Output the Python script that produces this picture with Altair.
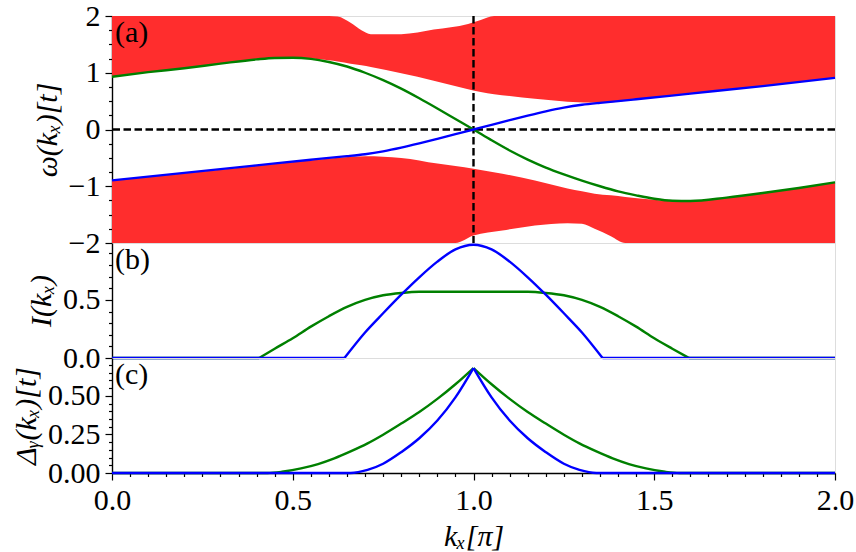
import altair as alt
import pandas as pd

FONT = "Liberation Serif"
RED = "#ff2d2d"
GREEN = "#008000"
BLUE = "#0000ff"

# ---------------- panel (a): dispersion ----------------
# upper continuum band
ub_x = [0.0, 0.1, 0.2, 0.3, 0.4, 0.45, 0.5, 0.55, 0.6, 0.624, 0.66, 0.69, 0.716,
        0.8, 0.89, 0.985, 1.02, 1.057, 1.1, 1.17, 1.26, 1.35, 1.45, 1.6, 1.8, 2.0]
ub_lo = [0.93, 1.01, 1.08, 1.16, 1.235, 1.26, 1.265, 1.25, 1.22, 1.20, 1.16, 1.13, 1.10,
         0.99, 0.86, 0.71, 0.66, 0.62, 0.59, 0.54, 0.49, 0.47, 0.53, 0.63, 0.765, 0.91]
ub_hi = [2.0, 2.0, 2.0, 2.0, 2.0, 2.0, 2.0, 2.0, 2.0, 1.99, 1.88, 1.75, 1.68,
         1.68, 1.76, 1.86, 1.93, 2.0, 2.0, 2.0, 2.0, 2.0, 2.0, 2.0, 2.0, 2.0]

# lower continuum band
lb_x = [0.0, 0.2, 0.4, 0.55, 0.7, 0.8, 0.9, 0.95, 1.0, 1.08, 1.17, 1.26, 1.3,
        1.335, 1.38, 1.42, 1.5, 1.55, 1.6, 1.7, 1.8, 1.9, 2.0]
lb_hi = [-0.90, -0.77, -0.64, -0.54, -0.47, -0.50, -0.60, -0.645, -0.69, -0.78, -0.90, -1.04, -1.09,
         -1.13, -1.16, -1.19, -1.24, -1.265, -1.265, -1.20, -1.12, -1.03, -0.93]
lb_lo = [-2.0, -2.0, -2.0, -2.0, -2.0, -2.0, -2.0, -2.0, -1.87, -1.78, -1.69, -1.65, -1.66,
         -1.75, -1.88, -2.0, -2.0, -2.0, -2.0, -2.0, -2.0, -2.0, -2.0]

# edge-state branches
ga_x = [0.0, 0.1, 0.2, 0.3, 0.4, 0.45, 0.5, 0.55, 0.6, 0.65, 0.7, 0.75, 0.8, 0.85, 0.9, 0.95, 1.0,
        1.05, 1.1, 1.15, 1.2, 1.25, 1.3, 1.35, 1.4, 1.45, 1.5, 1.55, 1.6, 1.7, 1.8, 1.9, 2.0]
ga_y = [0.93, 1.01, 1.08, 1.16, 1.235, 1.26, 1.265, 1.245, 1.19, 1.11, 1.0, 0.87, 0.72, 0.55, 0.37, 0.185, 0.0,
        -0.19, -0.37, -0.53, -0.67, -0.79, -0.90, -1.0, -1.09, -1.16, -1.22, -1.255, -1.26, -1.20, -1.12, -1.03, -0.93]
ba_x = [0.0, 0.2, 0.4, 0.55, 0.6, 0.65, 0.7, 0.75, 0.8, 0.85, 0.9, 0.95, 1.0,
        1.05, 1.1, 1.15, 1.2, 1.25, 1.3, 1.35, 1.4, 1.45, 1.6, 1.8, 2.0]
ba_y = [-0.897, -0.765, -0.632, -0.532, -0.50, -0.47, -0.435, -0.385, -0.32, -0.245, -0.165, -0.083, 0.0,
        0.083, 0.165, 0.245, 0.32, 0.385, 0.435, 0.47, 0.50, 0.532, 0.632, 0.765, 0.91]

# ---------------- panel (b): I(k_x) ----------------
gb_x = [0.0, 0.407, 0.45, 0.5, 0.55, 0.6, 0.65, 0.7, 0.75, 0.8, 0.85, 1.0, 1.15, 1.2, 1.25,
        1.3, 1.35, 1.4, 1.45, 1.5, 1.55, 1.596, 2.0]
gb_y = [0.0, 0.0, 0.08, 0.17, 0.27, 0.36, 0.44, 0.50, 0.54, 0.56, 0.57, 0.57, 0.57, 0.56, 0.54,
        0.50, 0.44, 0.36, 0.27, 0.17, 0.08, 0.0, 0.0]
bb_x = [0.0, 0.643, 0.7, 0.75, 0.8, 0.85, 0.9, 0.95, 1.0, 1.05, 1.1, 1.15, 1.2, 1.25, 1.3, 1.357, 2.0]
bb_y = [0.0, 0.0, 0.22, 0.385, 0.545, 0.695, 0.83, 0.935, 0.975, 0.935, 0.83, 0.695, 0.545, 0.385, 0.22, 0.0, 0.0]

# ---------------- panel (c): Delta_y(k_x) ----------------
gc_x = [0.0, 0.43, 0.47, 0.523, 0.57, 0.615, 0.66, 0.707, 0.75, 0.8, 0.85, 0.9, 0.95, 1.0,
        1.05, 1.1, 1.15, 1.2, 1.25, 1.293, 1.34, 1.385, 1.43, 1.477, 1.53, 1.57, 2.0]
gc_y = [0.0, 0.0, 0.008, 0.03, 0.058, 0.095, 0.14, 0.192, 0.248, 0.32, 0.395, 0.48, 0.575, 0.68,
        0.575, 0.48, 0.395, 0.32, 0.248, 0.192, 0.14, 0.095, 0.058, 0.03, 0.008, 0.0, 0.0]
bc_x = [0.0, 0.66, 0.707, 0.75, 0.8, 0.85, 0.9, 0.95, 1.0, 1.05, 1.1, 1.15, 1.2, 1.25, 1.293, 1.34, 2.0]
bc_y = [0.0, 0.0, 0.02, 0.06, 0.135, 0.225, 0.34, 0.49, 0.68, 0.49, 0.34, 0.225, 0.135, 0.06, 0.02, 0.0, 0.0]

panel_tags = ["(a)", "(b)", "(c)"]
y_titles = ["ω(kₓ)[t]", "I(kₓ)", "Δᵧ(kₓ)[t]"]
x_title = "kₓ[π]"

W = 723
HA, HB, HC = 227, 115, 115
FS = 30


def pieces(xs, ys, kinks):
    """Split a curve at kink positions so each piece is smoothed on its own."""
    rows = []
    for x, y in zip(xs, ys):
        seg = sum(1 for k in kinks if x > k + 1e-9)
        rows.append((x, y, seg))
        if any(abs(x - k) < 1e-9 for k in kinks):
            rows.append((x, y, seg + 1))
    return pd.DataFrame(rows, columns=["x", "y", "seg"])


def ticks(lo, hi, step):
    n = int(round((hi - lo) / step))
    return [round(lo + i * step, 4) for i in range(n + 1)]


def is_major(step):
    return f"abs(datum.value / {step} - round(datum.value / {step})) < 1e-6"


def make_axis(vals, major_step, fmt, title, **kw):
    test = is_major(major_step)
    return alt.Axis(
        values=vals,
        labelExpr=f"{test} ? format(datum.value, '{fmt}') : ''",
        tickSize={"condition": {"test": test, "value": 7}, "value": 3.5},
        tickWidth=1.2,
        tickColor="black",
        domainColor="black",
        domainWidth=1.4,
        labelFont=FONT,
        labelFontSize=FS,
        labelColor="black",
        labelPadding=5,
        labelOverlap=False,
        labelFlush=False,
        labelBound=False,
        grid=False,
        title=title,
        titleFont=FONT,
        titleFontSize=FS,
        titleFontStyle="italic",
        titleFontWeight="normal",
        titleColor="black",
        **kw,
    )


x_scale = alt.Scale(domain=[0, 2], nice=False, zero=False)


def tag_layer(text):
    return alt.Chart(pd.DataFrame({"t": [text]})).mark_text(
        align="left", baseline="top", font=FONT, fontSize=FS, color="black"
    ).encode(x=alt.value(3), y=alt.value(2), text="t:N")


def curve(df, color, x_enc, y_enc):
    return alt.Chart(df).mark_line(color=color, strokeWidth=2.4, interpolate="monotone").encode(
        x=x_enc, y=y_enc, detail="seg:N"
    )


# ---- panel (a)
ya_scale = alt.Scale(domain=[-2, 2], nice=False, zero=False)
ya_axis = make_axis(ticks(-2, 2, 0.25), 1, "d", y_titles[0], titlePadding=6)
xa = alt.X("x:Q", scale=x_scale, axis=None)


def ya(field):
    return alt.Y(field, scale=ya_scale, axis=ya_axis)


upper = alt.Chart(pd.DataFrame({"x": ub_x, "lo": ub_lo, "hi": ub_hi})).mark_area(
    color=RED, opacity=1, interpolate="monotone"
).encode(x=xa, y=ya("lo:Q"), y2="hi:Q")
lower = alt.Chart(pd.DataFrame({"x": lb_x, "lo": lb_lo, "hi": lb_hi})).mark_area(
    color=RED, opacity=1, interpolate="monotone"
).encode(x=xa, y=ya("lo:Q"), y2="hi:Q")

dash = dict(color="black", strokeWidth=2.4, strokeDash=[7.5, 3.5])
hline = alt.Chart(pd.DataFrame({"y": [0.0]})).mark_rule(**dash).encode(y=ya("y:Q"))
vline = alt.Chart(pd.DataFrame({"x": [1.0]})).mark_rule(**dash).encode(x=xa)

panel_a = alt.layer(
    upper, lower, hline, vline,
    curve(pieces(ga_x, ga_y, []), GREEN, xa, ya("y:Q")),
    curve(pieces(ba_x, ba_y, []), BLUE, xa, ya("y:Q")),
    tag_layer(panel_tags[0]),
).properties(width=W, height=HA)

# ---- panel (b)
yb_scale = alt.Scale(domain=[0, 0.99], nice=False, zero=False)
yb_axis = make_axis(ticks(0, 0.9, 0.1), 0.5, ".1f", y_titles[1], titlePadding=6)
yb = alt.Y("y:Q", scale=yb_scale, axis=yb_axis)
xb = alt.X("x:Q", scale=x_scale, axis=None)
panel_b = alt.layer(
    curve(pieces(gb_x, gb_y, [0.407, 1.596]), GREEN, xb, yb),
    curve(pieces(bb_x, bb_y, [0.643, 1.357]), BLUE, xb, yb),
    tag_layer(panel_tags[1]),
).properties(width=W, height=HB)

# ---- panel (c)
yc_scale = alt.Scale(domain=[0, 0.745], nice=False, zero=False)
yc_axis = make_axis(ticks(0, 0.7, 0.05), 0.25, ".2f", y_titles[2], titlePadding=6)
yc = alt.Y("y:Q", scale=yc_scale, axis=yc_axis)
xc_axis = make_axis(ticks(0, 2, 0.05), 0.5, ".1f", x_title, titlePadding=6)
xc = alt.X("x:Q", scale=x_scale, axis=xc_axis)
panel_c = alt.layer(
    curve(pieces(gc_x, gc_y, [1.0]), GREEN, xc, yc),
    curve(pieces(bc_x, bc_y, [1.0]), BLUE, xc, yc),
    tag_layer(panel_tags[2]),
).properties(width=W, height=HC)

chart = alt.vconcat(panel_a, panel_b, panel_c, spacing=0, bounds="flush").properties(
    padding={"left": 11, "top": 0, "right": 0, "bottom": 0}
).configure_view(stroke="black", strokeWidth=1.4).configure(background="white")

chart.save("out.html", embed_options={"renderer": "svg", "actions": False})
